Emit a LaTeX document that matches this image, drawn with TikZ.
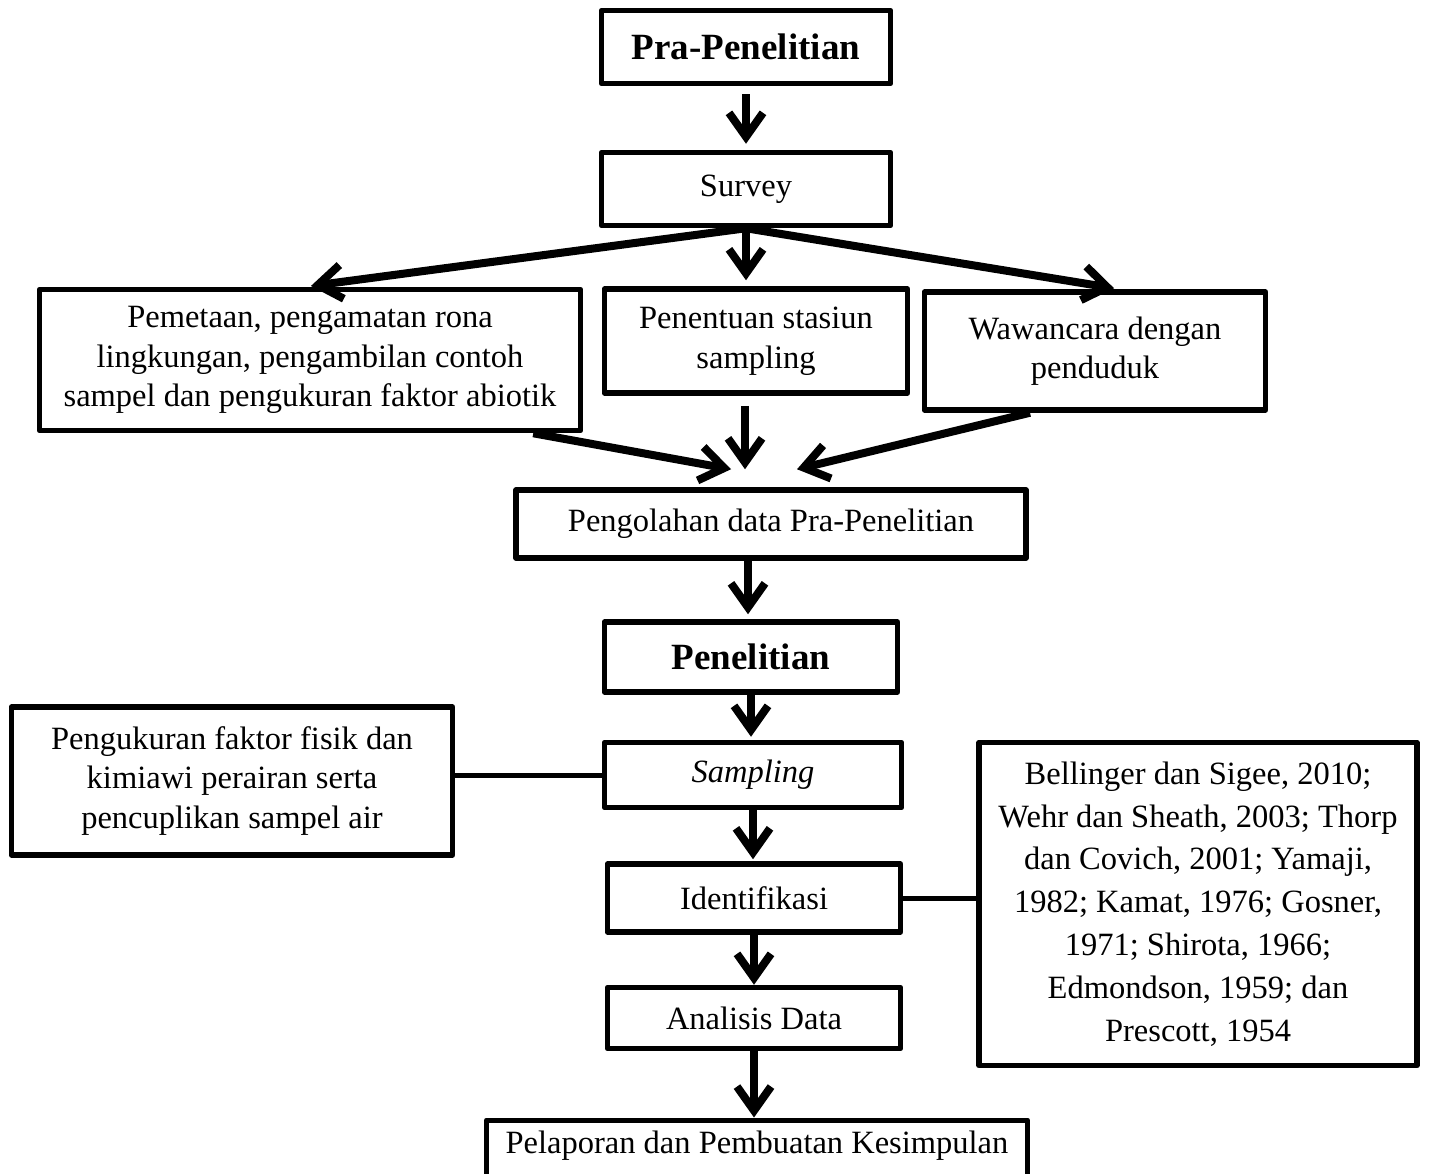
\documentclass[tikz,border=0pt]{standalone}
\usepackage{fontspec}
\setmainfont{Liberation Serif}
\usetikzlibrary{arrows.meta}

\tikzset{
  kotak/.style={draw, line width=5.5pt, line join=round, align=center, inner sep=0pt,
    font=\fontsize{32.5}{39.5}\selectfont},
  judul/.style={kotak, font=\fontsize{37}{44}\selectfont\bfseries},
  panah/.style={-{Straight Barb[length=24pt,width=34pt]}, line width=8pt},
  garis/.style={line width=5pt},
}

\begin{document}
\begin{tikzpicture}[x=1pt,y=-1pt]
\useasboundingbox (0,0) rectangle (1429,1173);

% tahap pra-penelitian
\node[judul, minimum width=289pt, minimum height=73pt] (pra) at (746,47) {Pra-Penelitian};
\node[kotak, minimum width=289pt, minimum height=73pt] (survey) at (746,189) {Survey};
\node[kotak, minimum width=541pt, minimum height=141pt] (pemetaan) at (310,360)
  {Pemetaan, pengamatan rona\\lingkungan, pengambilan contoh\\sampel dan pengukuran faktor abiotik};
\node[kotak, minimum width=303pt, minimum height=104pt] (stasiun) at (756,341)
  {Penentuan stasiun\\sampling};
\node[kotak, minimum width=341pt, minimum height=118pt] (wawancara) at (1095,351)
  {Wawancara dengan\\penduduk};
\node[kotak, minimum width=510pt, minimum height=68pt] (olah) at (771,524)
  {Pengolahan data Pra-Penelitian};

% tahap penelitian
\node[judul, minimum width=293pt, minimum height=70pt] (penelitian) at (751,657) {Penelitian};
\node[kotak, minimum width=297pt, minimum height=65pt] (sampling) at (753,775) {\textit{Sampling}};
\node[kotak, minimum width=441pt, minimum height=148pt] (ukur) at (232,781)
  {Pengukuran faktor fisik dan\\kimiawi perairan serta\\pencuplikan sampel air};
\node[kotak, minimum width=293pt, minimum height=68pt] (identifikasi) at (754,898) {Identifikasi};
\node[kotak, minimum width=438pt, minimum height=323pt, font=\fontsize{32.5}{42.8}\selectfont] (pustaka) at (1198,904)
  {Bellinger dan Sigee, 2010;\\Wehr dan Sheath, 2003; Thorp\\dan Covich, 2001; Yamaji,\\1982; Kamat, 1976; Gosner,\\1971; Shirota, 1966;\\Edmondson, 1959; dan\\Prescott, 1954};
\node[kotak, minimum height=61pt, minimum width=293pt] (analisis) at (754,1018) {Analisis Data};
\node[kotak, anchor=north, minimum width=541pt, text height=33pt, text depth=60pt] (lapor) at (757,1117.5)
  {Pelaporan dan Pembuatan Kesimpulan};

% panah
\draw[panah, shorten <=8pt, shorten >=6pt] (pra.south) -- (survey.north);
\draw[panah, shorten >=6pt] (survey.south) -- ([xshift=-5pt]pemetaan.north);
\draw[panah, shorten >=6pt] (survey.south) -- (survey.south |- stasiun.north);
\draw[panah, shorten >=6pt] (survey.south) -- ([xshift=25pt]wawancara.north);
\draw[panah] ([xshift=-50pt]pemetaan.south east) -- ([xshift=-40pt,yshift=18pt]olah.north);
\draw[panah] ([xshift=-11pt,yshift=-10pt]stasiun.south) -- ([xshift=-26pt,yshift=18pt]olah.north);
\draw[panah] ([xshift=-65pt]wawancara.south) -- ([xshift=26pt,yshift=18pt]olah.north);
\draw[panah, shorten >=5pt] ([xshift=-23pt]olah.south) -- ([xshift=-3pt]penelitian.north);
\draw[panah, shorten >=3pt] (penelitian.south) -- (penelitian.south |- sampling.north);
\draw[panah, shorten >=2pt] (sampling.south) -- (sampling.south |- identifikasi.north);
\draw[panah] (identifikasi.south) -- (identifikasi.south |- analisis.north);
\draw[panah] (analisis.south) -- (analisis.south |- lapor.north);

% garis keterangan
\draw[garis] (sampling.west) -- (sampling.west -| ukur.east);
\draw[garis] (identifikasi.east) -- (identifikasi.east -| pustaka.west);
\end{tikzpicture}
\end{document}
